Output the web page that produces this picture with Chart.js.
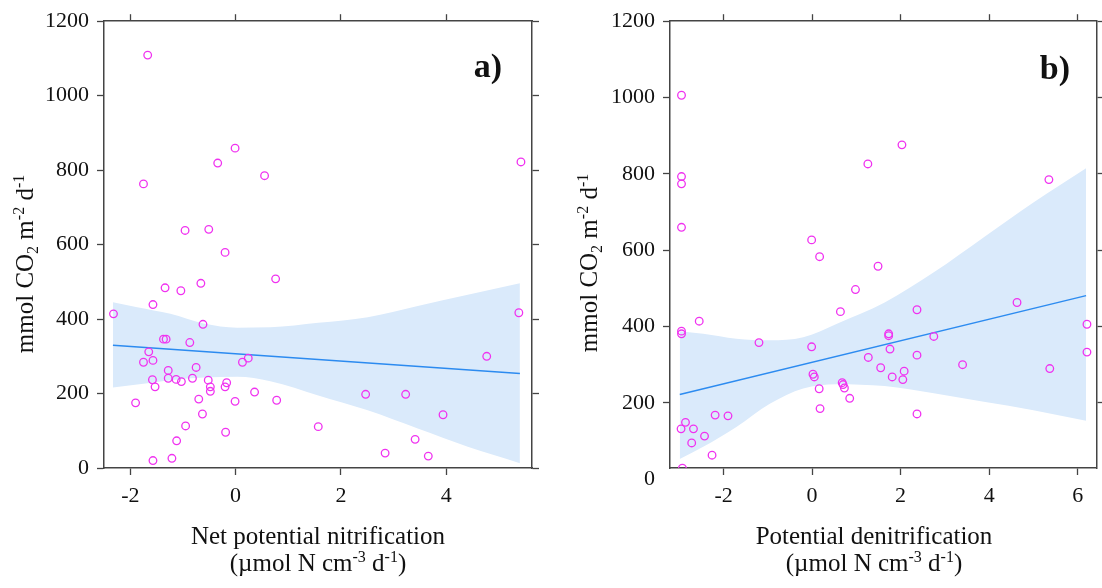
<!DOCTYPE html>
<html>
<head>
<meta charset="utf-8">
<script src="https://cdn.jsdelivr.net/npm/chart.js@4.4.0/dist/chart.umd.min.js"></script>
<style>
  body { margin: 0; background: #fff; }
  #wrap { position: relative; width: 1102px; height: 588px; }
  canvas { position: absolute; top: 0; }
</style>
</head>
<body>
<div id="wrap">
  <canvas id="chartA" width="551" height="588" style="left:0"></canvas>
  <canvas id="chartB" width="551" height="588" style="left:551px"></canvas>
</div>
<script>
// ---- panel a: net potential nitrification ----
const nitrX = [-1.67, -1.75, -0.01, -0.34, 0.55, -0.96, -0.51, -0.20, 0.76, -1.34, -1.04, -0.66, 5.42, -2.32, -1.57, -0.62, -1.37, -1.32, -0.87, -1.65, -1.75, -1.57, 0.13, 0.24, -1.28, -0.75, -1.58, -1.53, -1.28, -1.13, -1.03, -0.82, -0.52, -0.48, -0.48, -0.20, -0.17, 0.36, -1.90, -0.70, -0.01, 0.78, -0.63, -0.95, -0.19, -1.12, -1.21, -1.57, 5.38, 4.77, 2.47, 3.23, 3.94, 1.57, 3.41, 2.84, 3.66];
const respA = [1109, 763, 859, 819, 785, 638, 641, 579, 508, 484, 476, 496, 822, 414, 439, 386, 346, 346, 337, 312, 284, 289, 284, 295, 262, 270, 237, 218, 241, 238, 232, 241, 236, 218, 206, 218, 229, 204, 175, 185, 179, 182, 145, 113, 96, 73, 26, 20, 417, 300, 198, 198, 143, 111, 77, 40, 32];
const fitAX = [-2.33, 5.40];
const fitAY = [330, 254];
const bandAX = [-2.33, -1.87, -1.24, -0.61, 0.03, 0.66, 1.57, 2.51, 3.46, 4.41, 5.40];
const bandAUpper = [445, 432, 414, 388, 377, 378, 390, 405, 435, 465, 496];
const bandALower = [216, 224, 236, 243, 245, 233, 195, 155, 106, 57, 13];
const xTicksA = [-2, 0, 2, 4];

// ---- panel b: potential denitrification ----
const denitX = [-2.95, -2.95, -2.95, -2.95, -0.01, 0.17, -2.55, -2.95, -2.95, -1.20, -0.01, 0.02, 0.05, 0.16, 0.18, -2.96, -2.86, -2.68, -2.72, -2.43, -2.19, -1.90, -2.26, -2.93, 2.03, 1.26, 5.35, 1.49, 0.98, 4.63, 0.64, 2.37, 6.21, 1.73, 1.73, 2.75, 1.76, 6.21, 1.27, 2.37, 3.40, 1.55, 5.37, 2.08, 1.81, 2.05, 0.68, 0.70, 0.73, 0.85, 2.37];
const respB = [1006, 793, 774, 660, 627, 583, 414, 388, 381, 358, 347, 275, 268, 237, 185, 132, 149, 132, 95, 113, 168, 166, 63, 29, 876, 826, 785, 558, 497, 463, 439, 444, 406, 381, 376, 374, 341, 333, 319, 325, 300, 292, 290, 283, 268, 261, 253, 248, 239, 212, 171];
const fitBX = [-2.99, 6.19];
const fitBY = [222, 481];
const bandBX = [-2.99, -2.46, -1.71, -0.955, -0.2, 0.55, 1.64, 2.75, 3.88, 5.0, 6.19];
const bandBUpper = [388, 381, 368, 364, 372, 407, 463, 542, 634, 725, 815];
const bandBLower = [53, 85, 137, 198, 238, 249, 244, 225, 203, 181, 153];
const xTicksB = [-2, 0, 2, 4, 6];

const yTicks = [0, 200, 400, 600, 800, 1000, 1200];

const yTitleRuns = [['mmol CO', ''], ['2', 'sub'], [' m', ''], ['-2', 'sup'], [' d', ''], ['-1', 'sup']];
const unitRuns = [['(\u00b5mol N cm', ''], ['-3', 'sup'], [' d', ''], ['-1', 'sup'], [')', '']];

const SERIF = "'Liberation Serif', 'Times New Roman', serif";
const MAGENTA = 'rgb(240, 50, 240)';
const LINE_BLUE = '#2c8bf0';
const BAND_FILL = 'rgb(218, 234, 251)';
const AXIS_COLOR = '#444';

function toPoints(xs, ys) {
    return xs.map((x, i) => ({ x: x, y: ys[i] }));
}

function runFont(kind, size) {
    return (kind ? Math.round(size * 0.64) : size) + 'px ' + SERIF;
}

// draws text pieces with sub/superscripts, centred on the current origin
function drawRuns(ctx, runs, size) {
    let total = 0;
    runs.forEach(r => {
        ctx.font = runFont(r[1], size);
        total += ctx.measureText(r[0]).width;
    });
    let x = -total / 2;
    runs.forEach(r => {
        ctx.font = runFont(r[1], size);
        const dy = r[1] === 'sup' ? -size * 0.38 : (r[1] === 'sub' ? size * 0.2 : 0);
        ctx.fillText(r[0], x, dy);
        x += ctx.measureText(r[0]).width;
    });
}

function titlesPlugin(cfg) {
    return {
        id: 'panelTitles',
        afterDraw(chart) {
            const ctx = chart.ctx;
            ctx.save();
            ctx.fillStyle = '#111';
            ctx.textAlign = 'left';
            ctx.textBaseline = 'alphabetic';

            // y axis title (rotated)
            ctx.save();
            ctx.translate(cfg.yTitleX, cfg.yTitleY);
            ctx.rotate(-Math.PI / 2);
            drawRuns(ctx, yTitleRuns, 25);
            ctx.restore();

            // x axis title, two lines
            ctx.save();
            ctx.translate(cfg.xTitleX, 544);
            drawRuns(ctx, [[cfg.xTitle, '']], 25);
            ctx.restore();
            ctx.save();
            ctx.translate(cfg.xTitleX, 571);
            drawRuns(ctx, unitRuns, 25);
            ctx.restore();

            // panel letter
            ctx.font = 'bold 34px ' + SERIF;
            ctx.textAlign = 'right';
            ctx.fillText(cfg.letter, cfg.letterX, cfg.letterY);
            ctx.restore();
        }
    };
}

function axis(position, ticks, min, max, size, showLabels, tickColor) {
    const horizontal = position === 'top' || position === 'bottom';
    return {
        type: 'linear',
        position: position,
        min: min,
        max: max,
        afterBuildTicks: scale => {
            scale.ticks = ticks.map(v => ({ value: v }));
        },
        afterFit: scale => {
            if (horizontal) scale.height = size;
            else scale.width = size;
        },
        grid: {
            display: true,
            drawOnChartArea: false,
            drawTicks: true,
            tickLength: 7,
            tickWidth: 1.3,
            tickColor: tickColor || AXIS_COLOR
        },
        border: { display: true, color: AXIS_COLOR, width: 1.5 },
        ticks: {
            display: showLabels,
            autoSkip: false,
            maxRotation: 0,
            padding: 8,
            color: '#111',
            font: { family: SERIF, size: 22 },
            callback: value => String(value)
        }
    };
}

function makePanel(canvasId, p) {
    const ctx = document.getElementById(canvasId).getContext('2d');
    return new Chart(ctx, {
        type: 'scatter',
        data: {
            datasets: [
                {
                    type: 'scatter',
                    data: toPoints(p.xs, p.ys),
                    pointRadius: 3.8,
                    pointBorderWidth: 1.3,
                    pointBorderColor: MAGENTA,
                    pointBackgroundColor: 'rgba(0,0,0,0)',
                    showLine: false
                },
                {
                    type: 'line',
                    data: toPoints(p.fitX, p.fitY),
                    borderColor: LINE_BLUE,
                    borderWidth: 1.5,
                    pointRadius: 0,
                    fill: false
                },
                {
                    type: 'line',
                    data: toPoints(p.bandX, p.upper),
                    borderColor: 'rgba(0,0,0,0)',
                    borderWidth: 0,
                    pointRadius: 0,
                    backgroundColor: BAND_FILL,
                    fill: '+1',
                    cubicInterpolationMode: 'monotone'
                },
                {
                    type: 'line',
                    data: toPoints(p.bandX, p.lower),
                    borderColor: 'rgba(0,0,0,0)',
                    borderWidth: 0,
                    pointRadius: 0,
                    fill: false,
                    cubicInterpolationMode: 'monotone'
                }
            ]
        },
        options: {
            responsive: false,
            animation: false,
            devicePixelRatio: 1,
            layout: { padding: 0 },
            plugins: {
                legend: { display: false },
                tooltip: { enabled: false }
            },
            scales: {
                x: axis('bottom', p.xTicks, p.xMin, p.xMax, 120, true),
                x2: axis('top', p.xTicks, p.xMin, p.xMax, 20, false),
                y: axis('left', yTicks, p.yMin, 1200, p.leftWidth, true,
                    c => (c.tick && c.tick.value < p.yMin) ? 'rgba(0,0,0,0)' : AXIS_COLOR),
                y2: axis('right', yTicks.filter(v => v >= p.yMin), p.yMin, 1200, p.rightWidth, false)
            }
        },
        plugins: [titlesPlugin(p.titles)]
    });
}

makePanel('chartA', {
    xs: nitrX, ys: respA,
    fitX: fitAX, fitY: fitAY,
    bandX: bandAX, upper: bandAUpper, lower: bandALower,
    xTicks: xTicksA, xMin: -2.5, xMax: 5.63, yMin: 0,
    leftWidth: 104, rightWidth: 19,
    titles: { yTitleX: 33, yTitleY: 264, xTitleX: 318, xTitle: 'Net potential nitrification', letter: 'a)', letterX: 502, letterY: 77 }
});

makePanel('chartB', {
    xs: denitX, ys: respB,
    fitX: fitBX, fitY: fitBY,
    bandX: bandBX, upper: bandBUpper, lower: bandBLower,
    xTicks: xTicksB, xMin: -3.21, xMax: 6.43, yMin: 29.4,
    leftWidth: 119, rightWidth: 5,
    titles: { yTitleX: 46, yTitleY: 263, xTitleX: 323, xTitle: 'Potential denitrification', letter: 'b)', letterX: 519, letterY: 79 }
});
</script>
</body>
</html>
